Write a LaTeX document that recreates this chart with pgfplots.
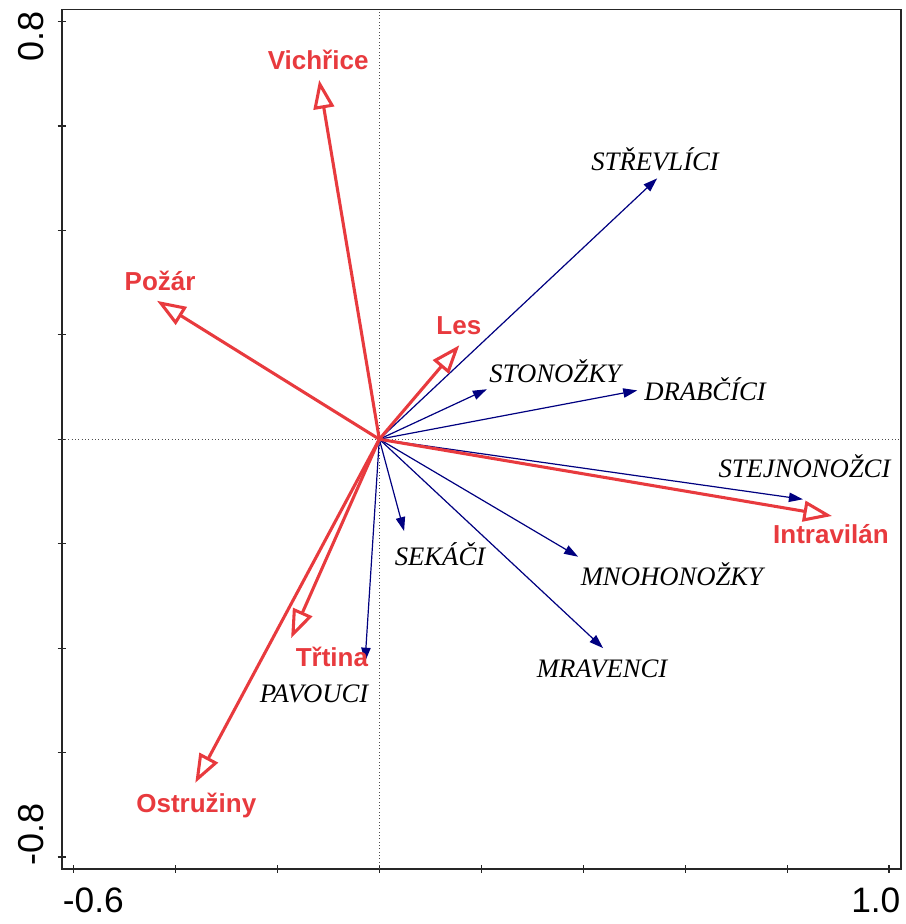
\documentclass[border=0pt]{standalone}
\usepackage{pgfplots}
\pgfplotsset{compat=1.18}
\usepackage{fontspec}
\setmainfont{Liberation Serif}
\newfontfamily\arial{Liberation Sans}
\usetikzlibrary{arrows.meta}
\definecolor{myred}{RGB}{232,58,62}
\definecolor{navyb}{RGB}{0,0,128}
\tikzset{
 redarr/.style={myred, line width=2.3pt, -{Triangle[open,length=21.5pt,width=15.5pt]}},
 bluearr/.style={navyb, line width=0.9pt, -{Triangle[length=10.5pt,width=7pt]}},
 redlab/.style={font=\arial\bfseries\fontsize{19.5}{20}\selectfont, text=myred, anchor=base},
 itlab/.style={font=\itshape\fontsize{20}{21}\selectfont, anchor=base},
}
\begin{document}
\begin{tikzpicture}
\begin{axis}[
 scale only axis, width=629.25pt, height=644.6pt,
 xmin=-0.623, xmax=1.023, ymin=-0.823, ymax=0.823,
 axis line style={line width=1.3pt, black!85},
 xtick={-0.6,-0.4,-0.2,0,0.2,0.4,0.6,0.8,1.0},
 ytick={-0.8,-0.6,-0.4,-0.2,0,0.2,0.4,0.6,0.8},
 xtick pos=bottom, ytick pos=left, tick align=center,
 major tick length=6pt, tick style={line width=0.9pt, black!85},
 xticklabels={}, yticklabels={},
 clip=false,
]
\coordinate (SW) at (rel axis cs:0,0);
\coordinate (NE) at (rel axis cs:1,1);
% dotted zero lines
\addplot[black!70, dotted, line width=0.5pt] coordinates {(0,-0.823) (0,0.823)};
\addplot[black!70, dotted, line width=0.5pt] coordinates {(-0.623,0) (1.023,0)};
% species (blue)
\addplot[bluearr] coordinates {(0,0) (0.545,0.4995)};
\addplot[bluearr] coordinates {(0,0) (0.211,0.0957)};
\addplot[bluearr] coordinates {(0,0) (0.506,0.0935)};
\addplot[bluearr] coordinates {(0,0) (0.831,-0.115)};
\addplot[bluearr] coordinates {(0,0) (0.0486,-0.176)};
\addplot[bluearr] coordinates {(0,0) (0.390,-0.225)};
\addplot[bluearr] coordinates {(0,0) (0.439,-0.400)};
\addplot[bluearr] coordinates {(0,0) (-0.028,-0.426)};
% environmental variables (red)
\addplot[redarr] coordinates {(0,0) (-0.118,0.688)};
\addplot[redarr] coordinates {(0,0) (-0.436,0.265)};
\addplot[redarr] coordinates {(0,0) (0.157,0.180)};
\addplot[redarr] coordinates {(0,0) (0.888,-0.147)};
\addplot[redarr] coordinates {(0,0) (-0.173,-0.381)};
\addplot[redarr] coordinates {(0,0) (-0.361,-0.658)};
% labels
\node[redlab] at (axis cs:-0.120,0.708) {Vichřice};
\node[redlab] at (axis cs:-0.430,0.285) {Požár};
\node[redlab] at (axis cs:0.156,0.201) {Les};
\node[redlab] at (axis cs:0.886,-0.199) {Intravilán};
\node[redlab] at (axis cs:-0.093,-0.436) {Třtina};
\node[redlab] at (axis cs:-0.359,-0.714) {Ostružiny};
\node[itlab] at (axis cs:0.541,0.515) {STŘEVLÍCI};
\node[itlab] at (axis cs:0.345,0.109) {STONOŽKY};
\node[itlab] at (axis cs:0.639,0.075) {DRABČÍCI};
\node[itlab] at (axis cs:0.834,-0.073) {STEJNONOŽCI};
\node[itlab] at (axis cs:0.119,-0.241) {SEKÁČI};
\node[itlab] at (axis cs:0.574,-0.281) {MNOHONOŽKY};
\node[itlab] at (axis cs:0.437,-0.456) {MRAVENCI};
\node[itlab] at (axis cs:-0.128,-0.505) {PAVOUCI};
% tick labels
\node[font=\arial\fontsize{26.5}{27}\selectfont, anchor=base] at (axis cs:-0.561,-0.907) {-0.6};
\node[font=\arial\fontsize{26.5}{27}\selectfont, anchor=base] at (axis cs:0.974,-0.907) {1.0};
\node[font=\arial\fontsize{27}{28}\selectfont, anchor=base, rotate=90] at (axis cs:-0.6595,0.771) {0.8};
\node[font=\arial\fontsize{27}{28}\selectfont, anchor=base, rotate=90] at (axis cs:-0.6595,-0.756) {-0.8};
\end{axis}
\pgfresetboundingbox
\path[use as bounding box] ([xshift=-46.3pt,yshift=-41.25pt]SW) rectangle ([xshift=3.2pt,yshift=7.1pt]NE);
\end{tikzpicture}
\end{document}
